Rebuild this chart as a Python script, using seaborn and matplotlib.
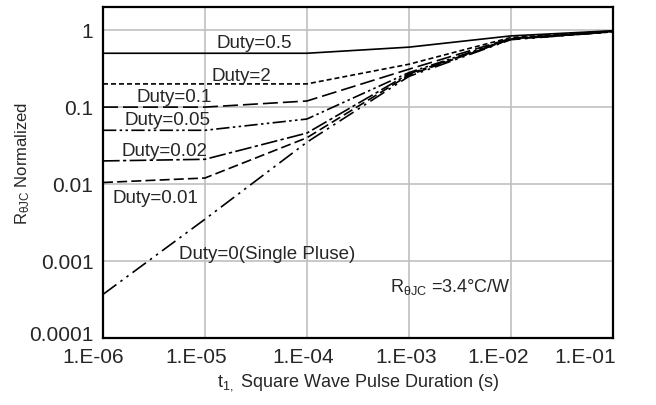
import numpy as np
import pandas as pd
import matplotlib
matplotlib.use("Agg")
import matplotlib.pyplot as plt
import matplotlib.transforms as mtransforms
import seaborn as sns
from matplotlib.ticker import LogLocator, FixedLocator, NullFormatter

# ---- data ----
t_pulse = [1e-6, 1e-5, 1e-4, 1e-3, 1e-2, 1e-1]
duty_05 = [0.5, 0.5, 0.5, 0.6, 0.84, 0.98]
duty_2 = [0.2, 0.2, 0.2, 0.36, 0.80, 0.97]
duty_01 = [0.1, 0.1, 0.12, 0.31, 0.78, 0.96]
duty_005 = [0.05, 0.05, 0.07, 0.28, 0.77, 0.96]
duty_002 = [0.02, 0.021, 0.046, 0.27, 0.76, 0.95]
duty_001 = [0.0105, 0.012, 0.04, 0.26, 0.76, 0.95]
duty_0 = [0.00037, 0.0035, 0.035, 0.25, 0.75, 0.95]

series = {
    "0.5": duty_05, "2": duty_2, "0.1": duty_01, "0.05": duty_005,
    "0.02": duty_002, "0.01": duty_001, "0": duty_0,
}
x_ticks = [1e-6, 1e-5, 1e-4, 1e-3, 1e-2, 1e-1]
x_ticklabels = ["1.E-06", "1.E-05", "1.E-04", "1.E-03", "1.E-02", "1.E-01"]
y_ticks = [1e-4, 1e-3, 1e-2, 1e-1, 1]
y_ticklabels = ["0.0001", "0.001", "0.01", "0.1", "1"]

rows = []
for k, v in series.items():
    for x, y in zip(t_pulse, v):
        rows.append({"t": x, "r": y, "duty": k})
df = pd.DataFrame(rows)

sns.set_style("white")
plt.rcParams["font.family"] = ["Liberation Sans", "DejaVu Sans"]
plt.rcParams["mathtext.fontset"] = "custom"
plt.rcParams["mathtext.rm"] = "Liberation Sans"
plt.rcParams["mathtext.it"] = "Liberation Sans"

fig = plt.figure(figsize=(6.56, 4.05), dpi=100)
ax = fig.add_axes([0.157, 0.165, 0.777, 0.818])

dashes = {
    "0.5": "",
    "2": (3, 1.8),
    "0.1": (9, 3),
    "0.05": (8, 2, 1.5, 2, 1.5, 2),
    "0.02": (10, 2, 2, 2),
    "0.01": (6, 2.5),
    "0": (10, 3, 1.5, 3, 1.5, 3),
}
sns.lineplot(data=df, x="t", y="r", style="duty", dashes=dashes,
             color="black", linewidth=1.2, legend=False, ax=ax)

ax.set_xscale("log")
ax.set_yscale("log")
ax.set_xlim(1e-6, 1e-1)
ax.set_ylim(1e-4, 2)

ax.xaxis.set_major_locator(FixedLocator(x_ticks))
ax.set_xticklabels(x_ticklabels)
ax.yaxis.set_major_locator(FixedLocator(y_ticks))
ax.set_yticklabels(y_ticklabels)
ax.xaxis.set_minor_locator(LogLocator(base=10, subs=np.arange(2, 10), numticks=20))
ax.yaxis.set_minor_locator(LogLocator(base=10, subs=np.arange(2, 10), numticks=20))
ax.xaxis.set_minor_formatter(NullFormatter())
ax.yaxis.set_minor_formatter(NullFormatter())

ax.grid(True, which="major", color="#c0c0c0", linewidth=1.2)
ax.set_axisbelow(True)
ax.tick_params(which="major", direction="in", length=0, labelsize=15, pad=7)
ax.tick_params(which="minor", direction="in", length=4, width=1, color="black")
ax.tick_params(axis="x", which="major", pad=7)
for s in ax.spines.values():
    s.set_color("black")
    s.set_linewidth(1.6)

# Excel-like placement of tick labels
offsets_px = [-10, -9, -4, -3, -13, -28]
for lab, dx in zip(ax.get_xticklabels(), offsets_px):
    lab.set_transform(lab.get_transform() +
                      mtransforms.ScaledTranslation(dx / 100, 0, fig.dpi_scale_trans))
ylab0 = ax.get_yticklabels()[0]
ylab0.set_transform(ylab0.get_transform() +
                    mtransforms.ScaledTranslation(0, 5 / 100, fig.dpi_scale_trans))

ax.set_xlabel(r"t$_{\mathrm{1,}}$ Square Wave Pulse Duration (s)", fontsize=13, labelpad=4)
ax.set_ylabel(r"R$_{\mathrm{\theta JC}}$ Normalized", fontsize=12)
ax.yaxis.label.set_va("center")
ax.yaxis.set_label_coords(-0.157, 0.526)

fs = 13.5
ax.text(1.31e-5, 0.58, "Duty=0.5", fontsize=fs)
ax.text(1.17e-5, 0.22, "Duty=2", fontsize=fs)
ax.text(2.15e-6, 0.115, "Duty=0.1", fontsize=fs)
ax.text(1.64e-6, 0.058, "Duty=0.05", fontsize=fs)
ax.text(1.53e-6, 0.0235, "Duty=0.02", fontsize=fs)
ax.text(1.25e-6, 0.0057, "Duty=0.01", fontsize=fs)
ax.text(5.56e-6, 0.00108, "Duty=0(Single Pluse)", fontsize=fs)
ax.text(6.5e-4, 0.0004, r"R$_{\mathrm{\theta JC}}$ =3.4°C/W", fontsize=13)

fig.savefig("out.png", dpi=100)
